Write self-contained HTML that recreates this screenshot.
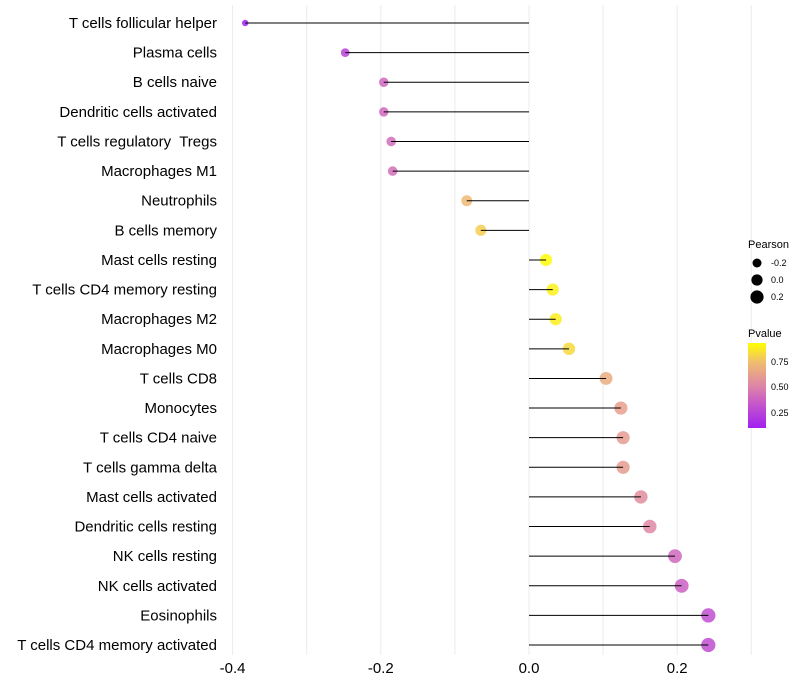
<!DOCTYPE html>
<html><head><meta charset="utf-8"><style>
html,body{margin:0;padding:0;background:#fff;}
svg{display:block;font-family:"Liberation Sans",sans-serif;}
</style></head><body>
<svg id="chart" width="800" height="700">
<defs><linearGradient id="pg" x1="0" y1="1" x2="0" y2="0">
<stop offset="0" stop-color="rgb(160,32,240)"/><stop offset="0.3" stop-color="rgb(200,90,200)"/>
<stop offset="0.48" stop-color="rgb(220,130,170)"/><stop offset="0.78" stop-color="rgb(240,190,110)"/>
<stop offset="1" stop-color="rgb(255,255,0)"/></linearGradient></defs>
<g id="grid"></g>
<g id="marks"></g>
<g id="ylabels"></g>
<g id="xlabels"></g>
<g>
<text x="748" y="248" font-size="11">Pearson</text>
<circle cx="757" cy="263" r="4.5"/>
<circle cx="757" cy="280" r="5.6"/>
<circle cx="757" cy="297" r="6.6"/>
<text x="771" y="266" font-size="9">-0.2</text>
<text x="771" y="283" font-size="9">0.0</text>
<text x="771" y="300" font-size="9">0.2</text>
<text x="748" y="337" font-size="11">Pvalue</text>
<rect x="748" y="343" width="18" height="85" fill="url(#pg)"/>
<text x="771" y="365" font-size="9">0.75</text>
<text x="771" y="390" font-size="9">0.50</text>
<text x="771" y="416" font-size="9">0.25</text>
</g>
</svg>
<script>
const categories=["T cells follicular helper","Plasma cells","B cells naive","Dendritic cells activated","T cells regulatory  Tregs","Macrophages M1","Neutrophils","B cells memory","Mast cells resting","T cells CD4 memory resting","Macrophages M2","Macrophages M0","T cells CD8","Monocytes","T cells CD4 naive","T cells gamma delta","Mast cells activated","Dendritic cells resting","NK cells resting","NK cells activated","Eosinophils","T cells CD4 memory activated"];
const pearson=[-0.383,-0.248,-0.196,-0.196,-0.186,-0.184,-0.084,-0.065,0.023,0.032,0.036,0.054,0.104,0.124,0.127,0.127,0.151,0.163,0.197,0.206,0.242,0.242];
const pvalue=[0.10,0.25,0.40,0.40,0.42,0.43,0.73,0.80,0.93,0.90,0.89,0.83,0.68,0.62,0.61,0.61,0.55,0.52,0.40,0.37,0.30,0.30];
const xTicks=[-0.4,-0.2,0.0,0.2];
const xTickLabels=["-0.4","-0.2","0.0","0.2"];
const xGrid=[-0.4,-0.3,-0.2,-0.1,0,0.1,0.2,0.3];
const NS="http://www.w3.org/2000/svg";
const x=v=>529+v*741;
const y=i=>23+i*29.62;
const rad=v=>Math.sqrt(Math.max(3,19+(v+0.248)*65));
const stops=[[0.10,[160,32,240]],[0.35,[200,90,200]],[0.5,[220,130,170]],[0.75,[240,190,110]],[0.94,[255,255,0]]];
function col(p){if(p<=stops[0][0])return stops[0][1];for(let k=1;k<stops.length;k++){if(p<=stops[k][0]){const t=(p-stops[k-1][0])/(stops[k][0]-stops[k-1][0]);const a=stops[k-1][1],b=stops[k][1];return a.map((c,j)=>Math.round(c+(b[j]-c)*t));}}return stops[stops.length-1][1];}
function mk(tag,at,parent){const e=document.createElementNS(NS,tag);for(const k in at)e.setAttribute(k,at[k]);parent.appendChild(e);return e;}
const grid=document.getElementById('grid'),marks=document.getElementById('marks'),yl=document.getElementById('ylabels'),xl=document.getElementById('xlabels');
xGrid.forEach(g=>{const l=mk('line',{x1:x(g),x2:x(g),y1:5,y2:655,stroke:'#ebebeb','stroke-width':1},grid);

});
categories.forEach((c,i)=>{
const p=mk('circle',{cx:x(pearson[i]),cy:y(i),r:rad(pearson[i]),fill:'rgb('+col(pvalue[i]).join(',')+')','fill-opacity':0.85},marks);


const s=mk('line',{x1:x(0),x2:x(pearson[i]),y1:y(i),y2:y(i),stroke:'#000','stroke-width':1},marks);


const t=mk('text',{x:217,y:y(i)+5,'font-size':15,'text-anchor':'end',fill:'#000','xml:space':'preserve',style:'white-space:pre'},yl);t.textContent=c;

});
xTicks.forEach((v,i)=>{const t=mk('text',{x:x(v),y:673,'font-size':15,'text-anchor':'middle',fill:'#000'},xl);t.textContent=xTickLabels[i];

});
</script>
</body></html>
